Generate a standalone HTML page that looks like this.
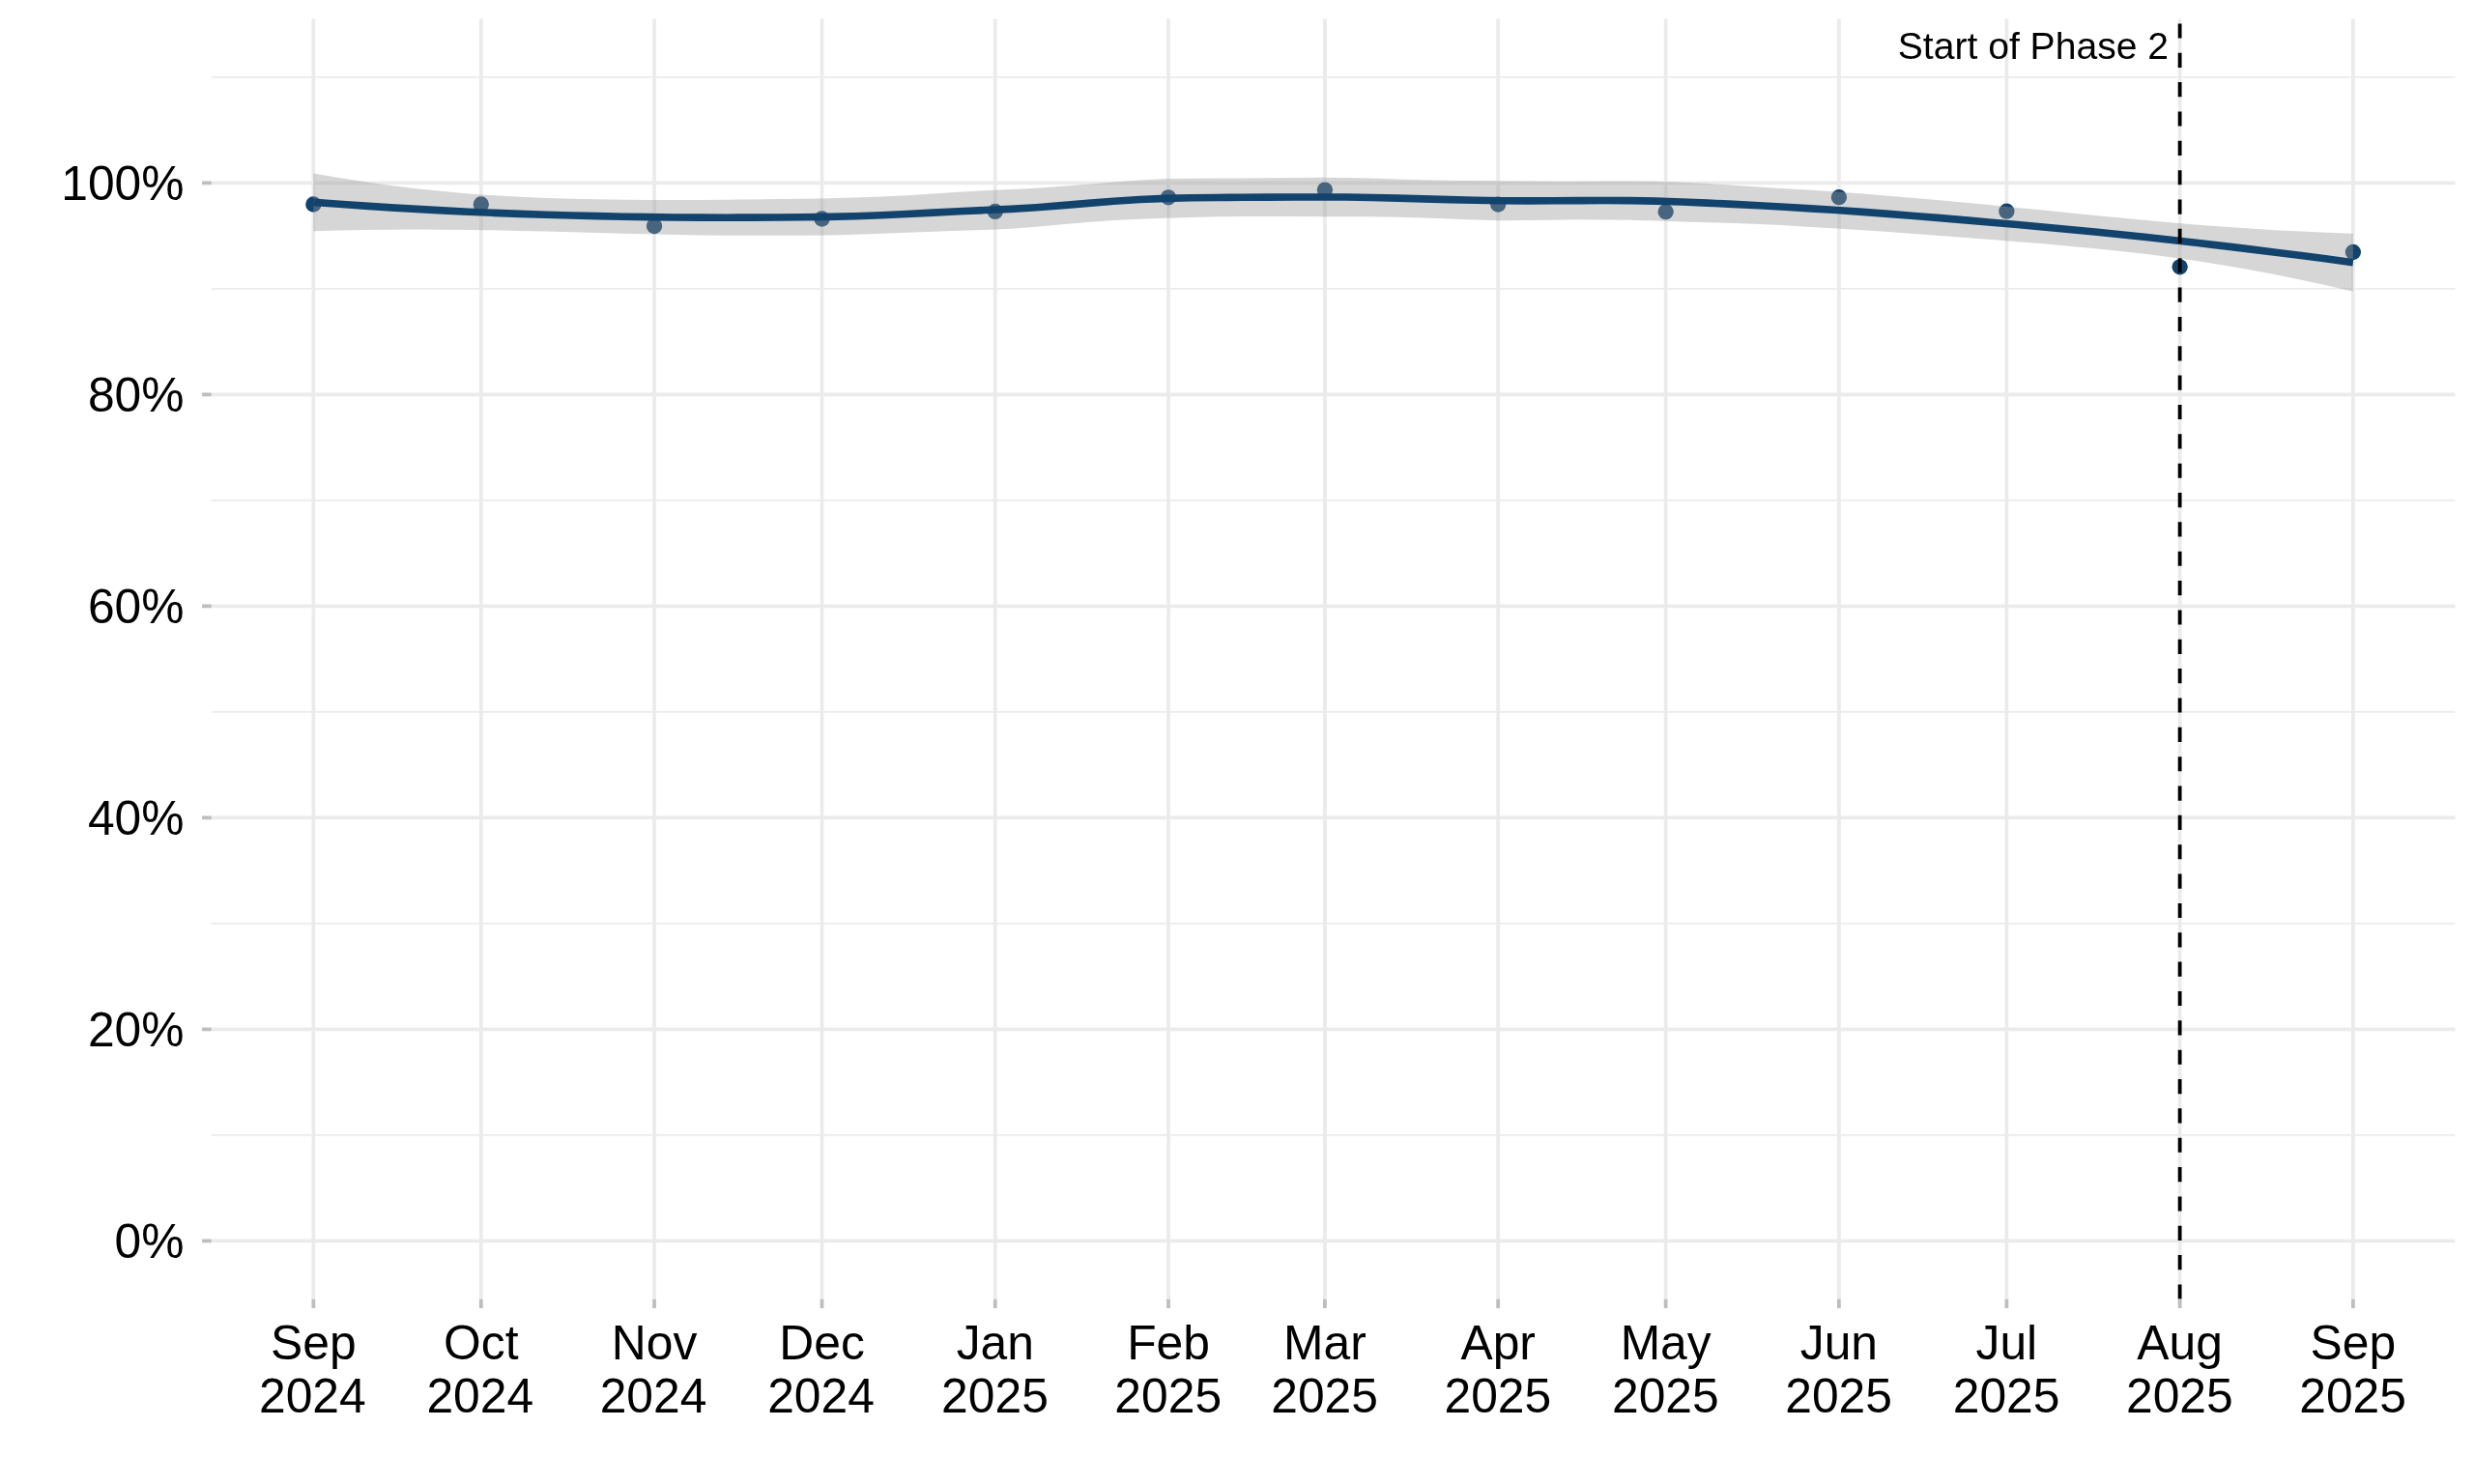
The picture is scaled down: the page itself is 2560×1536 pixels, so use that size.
<!DOCTYPE html>
<html><head><meta charset="utf-8"><title>Chart</title>
<style>
html,body{margin:0;padding:0;background:#fff;}
body{width:2560px;height:1536px;overflow:hidden;}
svg{display:block;will-change:transform;}
text{font-family:"Liberation Sans",sans-serif;fill:#000;}
.ax{font-size:49.78px;}
.an{font-size:39.1px;}
</style></head>
<body>
<svg width="2560" height="1536" viewBox="0 0 2560 1536">
<rect width="2560" height="1536" fill="#ffffff"/>
<g stroke="#EBEBEB" stroke-width="1.9" fill="none">
<line x1="218.8" x2="2540.4" y1="1174.89" y2="1174.89"/>
<line x1="218.8" x2="2540.4" y1="955.89" y2="955.89"/>
<line x1="218.8" x2="2540.4" y1="736.88" y2="736.88"/>
<line x1="218.8" x2="2540.4" y1="517.87" y2="517.87"/>
<line x1="218.8" x2="2540.4" y1="298.86" y2="298.86"/>
<line x1="218.8" x2="2540.4" y1="79.85" y2="79.85"/>
</g>
<g stroke="#EBEBEB" stroke-width="3.79" fill="none">
<line x1="218.8" x2="2540.4" y1="1284.40" y2="1284.40"/>
<line x1="218.8" x2="2540.4" y1="1065.39" y2="1065.39"/>
<line x1="218.8" x2="2540.4" y1="846.38" y2="846.38"/>
<line x1="218.8" x2="2540.4" y1="627.37" y2="627.37"/>
<line x1="218.8" x2="2540.4" y1="408.36" y2="408.36"/>
<line x1="218.8" x2="2540.4" y1="189.35" y2="189.35"/>
<line x1="324.33" x2="324.33" y1="19.6" y2="1344.6"/>
<line x1="497.80" x2="497.80" y1="19.6" y2="1344.6"/>
<line x1="677.05" x2="677.05" y1="19.6" y2="1344.6"/>
<line x1="850.52" x2="850.52" y1="19.6" y2="1344.6"/>
<line x1="1029.77" x2="1029.77" y1="19.6" y2="1344.6"/>
<line x1="1209.02" x2="1209.02" y1="19.6" y2="1344.6"/>
<line x1="1370.93" x2="1370.93" y1="19.6" y2="1344.6"/>
<line x1="1550.18" x2="1550.18" y1="19.6" y2="1344.6"/>
<line x1="1723.65" x2="1723.65" y1="19.6" y2="1344.6"/>
<line x1="1902.90" x2="1902.90" y1="19.6" y2="1344.6"/>
<line x1="2076.37" x2="2076.37" y1="19.6" y2="1344.6"/>
<line x1="2255.62" x2="2255.62" y1="19.6" y2="1344.6"/>
<line x1="2434.87" x2="2434.87" y1="19.6" y2="1344.6"/>
</g>
<g fill="#12436D">
<circle cx="324.33" cy="211.50" r="8.15"/>
<circle cx="497.80" cy="211.50" r="8.15"/>
<circle cx="677.05" cy="234.10" r="8.15"/>
<circle cx="850.52" cy="226.50" r="8.15"/>
<circle cx="1029.77" cy="218.90" r="8.15"/>
<circle cx="1209.02" cy="204.30" r="8.15"/>
<circle cx="1370.93" cy="196.60" r="8.15"/>
<circle cx="1550.18" cy="211.60" r="8.15"/>
<circle cx="1723.65" cy="219.20" r="8.15"/>
<circle cx="1902.90" cy="204.20" r="8.15"/>
<circle cx="2076.37" cy="218.70" r="8.15"/>
<circle cx="2255.62" cy="276.30" r="8.15"/>
<circle cx="2434.87" cy="260.90" r="8.15"/>
</g>
<polygon points="324.33,179.56 351.05,184.10 377.76,188.24 404.48,191.96 431.19,195.23 457.91,198.05 484.62,200.41 511.34,202.33 538.06,203.84 564.77,204.98 591.49,205.81 618.20,206.37 644.92,206.72 671.63,206.90 698.35,206.95 725.07,206.88 751.78,206.71 778.50,206.44 805.21,206.10 831.93,205.71 858.64,205.29 885.36,204.61 912.08,203.56 938.79,202.14 965.51,200.44 992.22,198.67 1018.94,197.15 1045.65,196.04 1072.37,194.64 1099.09,192.86 1125.80,190.74 1152.52,188.48 1179.23,186.44 1205.95,185.12 1232.66,184.69 1259.38,184.62 1286.09,184.57 1312.81,184.37 1339.53,184.03 1366.24,183.75 1392.96,183.90 1419.67,184.60 1446.39,185.47 1473.10,186.23 1499.82,186.75 1526.54,187.07 1553.25,187.33 1579.97,187.62 1606.68,187.81 1633.40,187.81 1660.11,187.62 1686.83,187.46 1713.55,187.70 1740.26,188.65 1766.98,190.10 1793.69,191.79 1820.41,193.52 1847.12,195.19 1873.84,196.84 1900.56,198.60 1927.27,200.55 1953.99,202.67 1980.70,204.91 2007.42,207.27 2034.13,209.73 2060.85,212.29 2087.57,214.94 2114.28,217.60 2141.00,220.26 2167.71,222.89 2194.43,225.47 2221.14,227.98 2247.86,230.38 2274.58,232.64 2301.29,234.69 2328.01,236.53 2354.72,238.13 2381.44,239.51 2408.15,240.67 2434.87,241.63 2434.87,301.78 2408.15,295.53 2381.44,289.67 2354.72,284.22 2328.01,279.19 2301.29,274.57 2274.58,270.37 2247.86,266.56 2221.14,263.12 2194.43,260.03 2167.71,257.24 2141.00,254.69 2114.28,252.34 2087.57,250.15 2060.85,248.07 2034.13,246.00 2007.42,243.96 1980.70,241.98 1953.99,240.07 1927.27,238.26 1900.56,236.55 1873.84,234.88 1847.12,233.30 1820.41,231.97 1793.69,230.95 1766.98,230.16 1740.26,229.43 1713.55,228.58 1686.83,227.83 1660.11,227.40 1633.40,227.37 1606.68,227.67 1579.97,228.05 1553.25,228.13 1526.54,227.56 1499.82,226.56 1473.10,225.52 1446.39,224.72 1419.67,224.28 1392.96,224.16 1366.24,224.22 1339.53,224.08 1312.81,223.89 1286.09,223.92 1259.38,224.31 1232.66,224.98 1205.95,225.70 1179.23,226.66 1152.52,228.11 1125.80,230.05 1099.09,232.36 1072.37,234.74 1045.65,236.74 1018.94,237.95 992.22,238.87 965.51,239.78 938.79,240.77 912.08,241.83 885.36,242.81 858.64,243.46 831.93,243.67 805.21,243.77 778.50,243.78 751.78,243.68 725.07,243.43 698.35,243.00 671.63,242.37 644.92,241.65 618.20,240.93 591.49,240.22 564.77,239.53 538.06,238.91 511.34,238.36 484.62,237.93 457.91,237.67 431.19,237.59 404.48,237.72 377.76,238.04 351.05,238.55 324.33,239.23" fill="#999999" fill-opacity="0.4"/>
<polyline points="324.33,209.40 351.05,211.33 377.76,213.14 404.48,214.84 431.19,216.41 457.91,217.86 484.62,219.17 511.34,220.35 538.06,221.37 564.77,222.26 591.49,223.01 618.20,223.65 644.92,224.19 671.63,224.64 698.35,224.98 725.07,225.16 751.78,225.19 778.50,225.11 805.21,224.94 831.93,224.69 858.64,224.37 885.36,223.71 912.08,222.70 938.79,221.46 965.51,220.11 992.22,218.77 1018.94,217.55 1045.65,216.39 1072.37,214.69 1099.09,212.61 1125.80,210.40 1152.52,208.29 1179.23,206.55 1205.95,205.41 1232.66,204.83 1259.38,204.47 1286.09,204.25 1312.81,204.13 1339.53,204.05 1366.24,203.98 1392.96,204.03 1419.67,204.44 1446.39,205.09 1473.10,205.87 1499.82,206.66 1526.54,207.31 1553.25,207.73 1579.97,207.84 1606.68,207.74 1633.40,207.59 1660.11,207.51 1686.83,207.65 1713.55,208.14 1740.26,209.04 1766.98,210.13 1793.69,211.37 1820.41,212.74 1847.12,214.24 1873.84,215.86 1900.56,217.58 1927.27,219.41 1953.99,221.37 1980.70,223.44 2007.42,225.62 2034.13,227.87 2060.85,230.18 2087.57,232.54 2114.28,234.97 2141.00,237.47 2167.71,240.06 2194.43,242.75 2221.14,245.55 2247.86,248.47 2274.58,251.50 2301.29,254.63 2328.01,257.86 2354.72,261.18 2381.44,264.59 2408.15,268.10 2434.87,271.70" fill="none" stroke="#12436D" stroke-width="7.59" stroke-linejoin="round" stroke-linecap="butt"/>
<line x1="2255.62" x2="2255.62" y1="1344.6" y2="19.6" stroke="#000" stroke-width="3.79" stroke-dasharray="15.17 15.18"/>
<text class="an" x="2244.0" y="60.6" text-anchor="end">Start of Phase 2</text>
<g stroke="#BEBEBE" stroke-width="3.79">
<line x1="209.1" x2="218.8" y1="1284.40" y2="1284.40"/>
<line x1="209.1" x2="218.8" y1="1065.39" y2="1065.39"/>
<line x1="209.1" x2="218.8" y1="846.38" y2="846.38"/>
<line x1="209.1" x2="218.8" y1="627.37" y2="627.37"/>
<line x1="209.1" x2="218.8" y1="408.36" y2="408.36"/>
<line x1="209.1" x2="218.8" y1="189.35" y2="189.35"/>
<line x1="324.33" x2="324.33" y1="1344.6" y2="1354.0"/>
<line x1="497.80" x2="497.80" y1="1344.6" y2="1354.0"/>
<line x1="677.05" x2="677.05" y1="1344.6" y2="1354.0"/>
<line x1="850.52" x2="850.52" y1="1344.6" y2="1354.0"/>
<line x1="1029.77" x2="1029.77" y1="1344.6" y2="1354.0"/>
<line x1="1209.02" x2="1209.02" y1="1344.6" y2="1354.0"/>
<line x1="1370.93" x2="1370.93" y1="1344.6" y2="1354.0"/>
<line x1="1550.18" x2="1550.18" y1="1344.6" y2="1354.0"/>
<line x1="1723.65" x2="1723.65" y1="1344.6" y2="1354.0"/>
<line x1="1902.90" x2="1902.90" y1="1344.6" y2="1354.0"/>
<line x1="2076.37" x2="2076.37" y1="1344.6" y2="1354.0"/>
<line x1="2255.62" x2="2255.62" y1="1344.6" y2="1354.0"/>
<line x1="2434.87" x2="2434.87" y1="1344.6" y2="1354.0"/>
</g>
<g class="ax" text-anchor="end">
<text x="190.5" y="1302.00">0%</text>
<text x="190.5" y="1082.99">20%</text>
<text x="190.5" y="863.98">40%</text>
<text x="190.5" y="644.97">60%</text>
<text x="190.5" y="425.96">80%</text>
<text x="190.5" y="206.95">100%</text>
</g>
<g class="ax" text-anchor="middle">
<text x="324.33" y="1407.4">Sep</text><text x="323.33" y="1461.7">2024</text>
<text x="497.80" y="1407.4">Oct</text><text x="496.80" y="1461.7">2024</text>
<text x="677.05" y="1407.4">Nov</text><text x="676.05" y="1461.7">2024</text>
<text x="850.52" y="1407.4">Dec</text><text x="849.52" y="1461.7">2024</text>
<text x="1029.77" y="1407.4">Jan</text><text x="1029.47" y="1461.7">2025</text>
<text x="1209.02" y="1407.4">Feb</text><text x="1208.72" y="1461.7">2025</text>
<text x="1370.93" y="1407.4">Mar</text><text x="1370.63" y="1461.7">2025</text>
<text x="1550.18" y="1407.4">Apr</text><text x="1549.88" y="1461.7">2025</text>
<text x="1723.65" y="1407.4">May</text><text x="1723.35" y="1461.7">2025</text>
<text x="1902.90" y="1407.4">Jun</text><text x="1902.60" y="1461.7">2025</text>
<text x="2076.37" y="1407.4">Jul</text><text x="2076.07" y="1461.7">2025</text>
<text x="2255.62" y="1407.4">Aug</text><text x="2255.32" y="1461.7">2025</text>
<text x="2434.87" y="1407.4">Sep</text><text x="2434.57" y="1461.7">2025</text>
</g>
</svg>
</body></html>
